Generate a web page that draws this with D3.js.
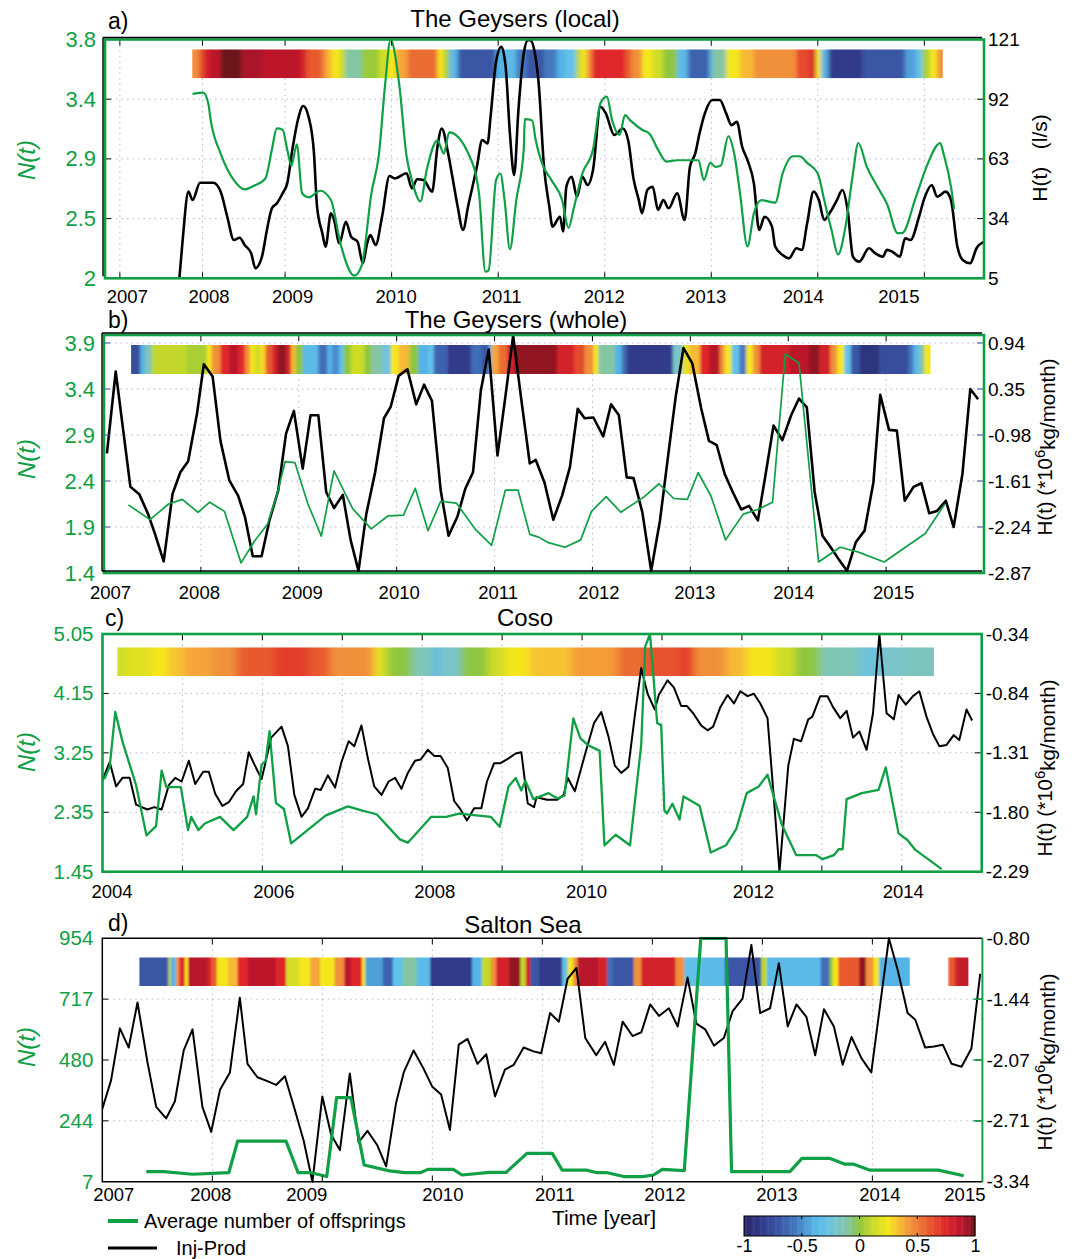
<!DOCTYPE html>
<html>
<head>
<meta charset="utf-8">
<script src="https://cdn.jsdelivr.net/npm/d3@7"></script>
<style>
  body { margin: 0; background: #fff; }
  text { font-family: "Liberation Sans", Arial, sans-serif; }
</style>
</head>
<body>
<svg id="chart" width="1079" height="1259"></svg>
<script>
// ---------- colours ----------
const green = "#0f9f45";
const gridColor = "#b3b8d6";

const cmapStops = [-1, -0.85, -0.7, -0.55, -0.4, -0.3, -0.2, -0.1, 0, 0.12, 0.25, 0.35, 0.45, 0.6, 0.75, 0.9, 1];
const cmapColors = ["#2b2868", "#303a8a", "#3a56a5", "#4479bf", "#55b3e6", "#62c1ea", "#79c5c9", "#84c6a4",
  "#8fc63f", "#cddc27", "#f5e61d", "#f6b935", "#f1903a", "#e85a2e", "#e0262b", "#b8152c", "#6c161b"];
const cmap = d3.scaleLinear().domain(cmapStops).range(cmapColors).clamp(true);

// ---------- a) The Geysers (local) ----------
const aOffspring = [[2007.88,3.39],[2008.01,3.40],[2008.07,3.32],[2008.10,3.19],[2008.22,2.94],[2008.38,2.74],[2008.51,2.67],[2008.63,2.70],[2008.76,2.75],[2008.84,2.97],[2008.90,3.13],[2008.97,3.12],[2009.02,2.97],[2009.06,2.85],[2009.11,3.01],[2009.16,2.64],[2009.22,2.61],[2009.33,2.66],[2009.43,2.59],[2009.52,2.26],[2009.65,2.02],[2009.72,2.10],[2009.81,2.64],[2009.88,2.93],[2009.94,3.47],[2009.99,3.80],[2010.07,3.47],[2010.14,2.92],[2010.19,2.74],[2010.27,2.58],[2010.33,2.82],[2010.43,3.04],[2010.49,2.94],[2010.54,3.10],[2010.72,2.94],[2010.82,2.64],[2010.88,2.05],[2010.91,2.06],[2010.98,2.74],[2011.02,2.79],[2011.06,2.59],[2011.11,2.22],[2011.17,2.59],[2011.24,2.97],[2011.25,3.20],[2011.32,3.19],[2011.35,3.05],[2011.41,2.87],[2011.50,2.74],[2011.60,2.59],[2011.66,2.38],[2011.71,2.53],[2011.79,2.79],[2011.89,2.97],[2011.96,3.32],[2012.02,3.37],[2012.07,3.19],[2012.14,3.08],[2012.19,3.23],[2012.24,3.19],[2012.35,3.12],[2012.42,3.09],[2012.50,2.97],[2012.58,2.88],[2012.68,2.89],[2012.88,2.89],[2012.93,2.74],[2012.99,2.87],[2013.04,2.84],[2013.09,2.85],[2013.16,3.07],[2013.22,2.92],[2013.27,2.64],[2013.34,2.24],[2013.40,2.49],[2013.47,2.59],[2013.60,2.57],[2013.67,2.79],[2013.77,2.92],[2013.83,2.92],[2013.90,2.87],[2014.00,2.79],[2014.06,2.59],[2014.13,2.36],[2014.19,2.18],[2014.26,2.39],[2014.33,2.79],[2014.38,3.02],[2014.46,2.84],[2014.56,2.69],[2014.65,2.56],[2014.75,2.34],[2014.79,2.34],[2014.92,2.61],[2015.02,2.84],[2015.15,3.02],[2015.18,2.94],[2015.25,2.69],[2015.28,2.52]];
const aInjProd = [[2007.72,5],[2007.76,23.6],[2007.83,47.1],[2007.88,43.0],[2007.97,51.4],[2008.13,51.4],[2008.22,47.1],[2008.30,34.9],[2008.38,23.6],[2008.45,24.7],[2008.51,21.2],[2008.59,17.1],[2008.64,9.9],[2008.72,15.5],[2008.78,28.5],[2008.84,39.0],[2008.90,41.4],[2008.97,46.3],[2009.02,51.1],[2009.07,68.1],[2009.12,81.9],[2009.17,88.7],[2009.22,83.5],[2009.27,66.5],[2009.30,39.8],[2009.35,26.8],[2009.38,20.4],[2009.43,36.6],[2009.46,33.3],[2009.51,22.0],[2009.57,32.5],[2009.62,25.2],[2009.68,22.8],[2009.73,12.3],[2009.77,22.0],[2009.80,26.0],[2009.85,21.2],[2009.91,34.9],[2009.98,54.7],[2010.03,53.5],[2010.14,56.0],[2010.19,48.7],[2010.24,53.1],[2010.30,52.7],[2010.38,47.1],[2010.43,68.9],[2010.47,77.8],[2010.53,65.7],[2010.57,54.3],[2010.62,39.8],[2010.67,28.5],[2010.72,40.6],[2010.80,59.2],[2010.85,72.1],[2010.90,70.5],[2010.93,84.3],[2010.98,110.2],[2011.03,117.5],[2011.07,107.7],[2011.11,75.4],[2011.15,55.2],[2011.19,86.7],[2011.24,114.2],[2011.28,120.7],[2011.30,120.7],[2011.35,112.6],[2011.38,99.7],[2011.43,59.2],[2011.48,39.8],[2011.51,30.1],[2011.58,34.9],[2011.61,27.7],[2011.64,49.5],[2011.69,54.3],[2011.74,44.6],[2011.79,54.3],[2011.84,50.3],[2011.89,57.6],[2011.96,88.3],[2012.01,85.1],[2012.09,74.6],[2012.17,77.8],[2012.22,72.1],[2012.27,53.5],[2012.32,43.0],[2012.35,36.6],[2012.40,47.9],[2012.45,49.5],[2012.50,38.2],[2012.55,43.0],[2012.60,39.0],[2012.68,46.3],[2012.75,33.3],[2012.80,59.2],[2012.85,65.7],[2012.89,75.4],[2012.94,85.1],[2013.01,91.6],[2013.08,91.6],[2013.14,85.1],[2013.19,79.4],[2013.24,81.0],[2013.29,68.9],[2013.34,62.4],[2013.40,51.1],[2013.45,28.5],[2013.50,34.9],[2013.57,30.1],[2013.60,20.4],[2013.67,16.3],[2013.73,14.7],[2013.80,19.6],[2013.85,18.8],[2013.90,31.7],[2013.96,47.1],[2014.01,43.0],[2014.06,33.3],[2014.11,36.6],[2014.18,43.0],[2014.23,47.9],[2014.28,38.2],[2014.33,15.5],[2014.39,13.1],[2014.48,19.6],[2014.54,17.1],[2014.61,15.5],[2014.65,18.8],[2014.70,17.9],[2014.77,15.5],[2014.82,24.4],[2014.87,23.6],[2014.95,34.9],[2015.00,43.8],[2015.07,50.3],[2015.12,44.6],[2015.20,47.1],[2015.25,43.0],[2015.31,20.4],[2015.36,13.9],[2015.43,12.3],[2015.49,19.6],[2015.56,22.8]];
const aCorr = [[2007.88,0.45],[2007.95,0.6],[2008.01,0.8],[2008.09,0.88],[2008.22,1.0],[2008.47,0.92],[2008.72,0.88],[2009.14,0.8],[2009.20,0.6],[2009.35,0.45],[2009.39,0.35],[2009.44,0.25],[2009.51,0.12],[2009.56,-0.1],[2009.72,0.02],[2009.88,0.12],[2009.96,0.25],[2010.04,0.4],[2010.15,0.55],[2010.43,0.25],[2010.49,0.05],[2010.54,-0.35],[2010.62,-0.7],[2010.98,-0.4],[2011.07,-0.35],[2011.17,-0.55],[2011.27,-0.7],[2011.43,-0.55],[2011.55,-0.4],[2011.63,-0.3],[2011.73,0.1],[2011.78,0.25],[2011.83,0.45],[2011.88,0.75],[2012.19,0.6],[2012.25,0.45],[2012.35,0.25],[2012.45,0.12],[2012.55,0.0],[2012.68,-0.35],[2012.78,-0.65],[2012.98,-0.4],[2013.01,-0.1],[2013.14,0.25],[2013.27,0.35],[2013.40,0.45],[2013.80,0.65],[2013.93,0.8],[2013.98,0.25],[2014.03,-0.4],[2014.10,-0.85],[2014.42,-0.7],[2014.82,-0.45],[2014.92,-0.3],[2014.98,0.05],[2015.05,0.25],[2015.12,0.45]];
const aCorrEnd = 2015.17;

// ---------- b) The Geysers (whole) ----------
const bOffspring = [[2007.26,2.14],[2007.48,1.98],[2007.67,2.15],[2007.81,2.20],[2007.97,2.06],[2008.09,2.17],[2008.24,2.07],[2008.41,1.51],[2008.55,1.75],[2008.68,1.93],[2008.78,2.26],[2008.86,2.61],[2008.96,2.60],[2009.09,2.16],[2009.23,1.80],[2009.36,2.51],[2009.55,2.10],[2009.74,1.88],[2009.91,2.02],[2010.07,2.03],[2010.19,2.32],[2010.32,1.86],[2010.45,2.18],[2010.61,2.16],[2010.80,1.88],[2010.97,1.70],[2011.11,2.30],[2011.24,2.30],[2011.36,1.82],[2011.45,1.79],[2011.55,1.73],[2011.72,1.68],[2011.88,1.76],[2011.99,2.07],[2012.14,2.23],[2012.29,2.06],[2012.53,2.23],[2012.68,2.37],[2012.83,2.21],[2012.97,2.20],[2013.08,2.49],[2013.21,2.24],[2013.36,1.76],[2013.54,2.04],[2013.69,2.09],[2013.84,2.17],[2013.97,3.78],[2014.11,3.68],[2014.31,1.52],[2014.53,1.68],[2014.71,1.63],[2014.98,1.52],[2015.40,1.83],[2015.60,2.15]];
const bInjProd = [[2007.04,-1.23],[2007.13,-0.11],[2007.28,-1.69],[2007.37,-1.79],[2007.46,-2.06],[2007.53,-2.33],[2007.62,-2.71],[2007.71,-1.79],[2007.79,-1.49],[2007.87,-1.34],[2007.96,-0.69],[2008.03,-0.01],[2008.12,-0.18],[2008.20,-1.06],[2008.29,-1.60],[2008.38,-1.81],[2008.45,-2.10],[2008.53,-2.64],[2008.62,-2.64],[2008.70,-2.15],[2008.79,-1.74],[2008.87,-0.96],[2008.95,-0.65],[2009.04,-1.44],[2009.12,-0.71],[2009.20,-0.71],[2009.28,-1.76],[2009.36,-1.98],[2009.45,-1.80],[2009.53,-2.42],[2009.61,-2.84],[2009.69,-2.06],[2009.78,-1.49],[2009.87,-0.75],[2009.94,-0.59],[2010.02,-0.17],[2010.11,-0.08],[2010.20,-0.56],[2010.28,-0.29],[2010.36,-0.51],[2010.45,-1.74],[2010.53,-2.36],[2010.62,-2.10],[2010.70,-1.72],[2010.78,-1.49],[2010.86,-0.37],[2010.94,0.19],[2011.03,-1.26],[2011.11,-0.46],[2011.19,0.38],[2011.27,-0.46],[2011.36,-1.37],[2011.42,-1.32],[2011.51,-1.63],[2011.60,-2.14],[2011.69,-1.81],[2011.77,-1.42],[2011.85,-0.62],[2011.92,-0.75],[2012.01,-0.74],[2012.11,-1.00],[2012.19,-0.56],[2012.27,-0.71],[2012.35,-1.56],[2012.42,-1.57],[2012.51,-2.04],[2012.60,-2.84],[2012.69,-2.15],[2012.78,-1.19],[2012.85,-0.46],[2012.93,0.21],[2013.02,0.00],[2013.11,-0.61],[2013.19,-1.06],[2013.27,-1.12],[2013.35,-1.51],[2013.44,-1.78],[2013.52,-2.00],[2013.60,-1.95],[2013.69,-2.15],[2013.77,-1.51],[2013.85,-0.85],[2013.94,-1.05],[2014.03,-0.71],[2014.11,-0.48],[2014.19,-0.60],[2014.27,-1.76],[2014.35,-2.36],[2014.43,-2.51],[2014.51,-2.67],[2014.60,-2.84],[2014.69,-2.45],[2014.78,-2.29],[2014.87,-1.63],[2014.94,-0.43],[2015.03,-0.91],[2015.11,-0.92],[2015.19,-1.88],[2015.28,-1.69],[2015.36,-1.64],[2015.44,-2.05],[2015.52,-2.02],[2015.61,-1.88],[2015.69,-2.24],[2015.78,-1.51],[2015.86,-0.35],[2015.94,-0.49]];
const bCorr = [[2007.29,-0.75],[2007.38,-0.4],[2007.43,-0.15],[2007.50,0.1],[2007.85,0.05],[2008.06,0.25],[2008.11,0.45],[2008.20,0.75],[2008.29,0.9],[2008.38,0.75],[2008.45,0.45],[2008.50,0.25],[2008.55,0.12],[2008.60,0.28],[2008.66,0.6],[2008.73,0.8],[2008.78,0.95],[2008.87,0.8],[2008.92,0.35],[2008.97,0.0],[2009.04,-0.35],[2009.20,-0.6],[2009.29,-0.4],[2009.34,-0.5],[2009.41,-0.3],[2009.46,0.0],[2009.53,0.12],[2009.67,0.0],[2009.74,-0.1],[2009.85,-0.25],[2009.94,0.25],[2010.02,0.35],[2010.13,0.0],[2010.22,-0.4],[2010.32,-0.3],[2010.38,-0.65],[2010.52,-0.85],[2010.76,-0.6],[2010.87,-0.7],[2010.94,-0.4],[2010.97,0.4],[2011.04,0.55],[2011.13,0.8],[2011.20,0.95],[2011.64,0.8],[2011.81,0.65],[2011.92,0.45],[2012.01,0.25],[2012.06,-0.1],[2012.23,-0.4],[2012.30,-0.6],[2012.35,-0.85],[2012.82,-0.2],[2012.92,0.2],[2012.99,0.35],[2013.10,0.75],[2013.19,0.9],[2013.30,0.45],[2013.35,0.25],[2013.42,-0.3],[2013.50,-0.55],[2013.57,0.25],[2013.64,0.45],[2013.71,0.8],[2014.01,0.88],[2014.21,0.95],[2014.32,0.8],[2014.43,0.45],[2014.50,0.25],[2014.57,-0.3],[2014.64,-0.7],[2014.73,-0.9],[2014.93,-0.75],[2015.23,-0.55],[2015.28,-0.35],[2015.34,-0.1],[2015.39,0.25]];
const bCorrEnd = 2015.45;

// ---------- c) Coso ----------
const cOffspring = [[2004.02,2.85],[2004.09,3.04],[2004.16,3.87],[2004.25,3.42],[2004.42,2.76],[2004.55,2.00],[2004.67,2.14],[2004.74,2.98],[2004.80,2.73],[2004.98,2.73],[2005.07,2.08],[2005.11,2.28],[2005.20,2.08],[2005.28,2.18],[2005.47,2.28],[2005.64,2.08],[2005.81,2.28],[2005.89,2.59],[2005.92,2.32],[2005.99,3.07],[2006.04,3.12],[2006.09,3.58],[2006.17,2.49],[2006.27,2.40],[2006.36,1.88],[2006.79,2.30],[2007.07,2.44],[2007.24,2.38],[2007.43,2.32],[2007.72,1.94],[2007.82,1.89],[2008.11,2.28],[2008.30,2.28],[2008.46,2.33],[2008.86,2.28],[2008.97,2.13],[2009.08,2.74],[2009.17,2.87],[2009.24,2.68],[2009.29,2.83],[2009.39,2.55],[2009.58,2.64],[2009.69,2.56],[2009.78,2.60],[2009.89,3.77],[2009.98,3.47],[2010.07,3.37],[2010.22,3.28],[2010.28,1.85],[2010.42,2.01],[2010.60,1.85],[2010.74,3.37],[2010.79,4.86],[2010.85,5.05],[2010.94,3.70],[2010.99,3.67],[2011.03,2.38],[2011.06,2.33],[2011.13,2.48],[2011.22,2.24],[2011.27,2.59],[2011.47,2.45],[2011.61,1.74],[2011.80,1.85],[2011.93,2.10],[2012.06,2.64],[2012.21,2.74],[2012.32,2.92],[2012.50,2.16],[2012.68,1.70],[2012.93,1.70],[2013.01,1.64],[2013.15,1.70],[2013.21,1.79],[2013.26,1.79],[2013.31,2.55],[2013.50,2.64],[2013.71,2.69],[2013.80,3.03],[2013.96,2.03],[2014.07,1.93],[2014.17,1.78],[2014.50,1.49]];
const cInjProd = [[2004.00,-1.54],[2004.09,-1.39],[2004.17,-1.59],[2004.25,-1.52],[2004.34,-1.52],[2004.42,-1.74],[2004.56,-1.78],[2004.65,-1.76],[2004.74,-1.78],[2004.83,-1.58],[2004.91,-1.52],[2004.99,-1.55],[2005.08,-1.38],[2005.16,-1.57],[2005.26,-1.47],[2005.33,-1.47],[2005.41,-1.65],[2005.50,-1.75],[2005.58,-1.72],[2005.67,-1.63],[2005.76,-1.57],[2005.83,-1.31],[2005.90,-1.41],[2005.99,-1.53],[2006.03,-1.42],[2006.11,-1.19],[2006.24,-1.10],[2006.32,-1.26],[2006.40,-1.66],[2006.49,-1.84],[2006.57,-1.77],[2006.66,-1.61],[2006.73,-1.62],[2006.82,-1.50],[2006.91,-1.60],[2006.99,-1.39],[2007.08,-1.22],[2007.15,-1.26],[2007.24,-1.09],[2007.32,-1.36],[2007.40,-1.59],[2007.49,-1.66],[2007.58,-1.55],[2007.66,-1.52],[2007.74,-1.61],[2007.82,-1.48],[2007.91,-1.38],[2007.98,-1.37],[2008.07,-1.29],[2008.15,-1.34],[2008.23,-1.34],[2008.32,-1.44],[2008.40,-1.71],[2008.47,-1.77],[2008.56,-1.87],[2008.65,-1.77],[2008.74,-1.77],[2008.81,-1.55],[2008.90,-1.40],[2008.98,-1.40],[2009.08,-1.36],[2009.17,-1.32],[2009.24,-1.31],[2009.32,-1.73],[2009.40,-1.76],[2009.43,-1.68],[2009.56,-1.70],[2009.69,-1.70],[2009.77,-1.66],[2009.82,-1.52],[2009.91,-1.63],[2010.04,-1.32],[2010.15,-1.07],[2010.24,-0.98],[2010.33,-1.18],[2010.41,-1.42],[2010.49,-1.48],[2010.58,-1.43],[2010.66,-1.01],[2010.74,-0.62],[2010.82,-0.83],[2010.91,-0.96],[2010.96,-0.84],[2011.07,-0.72],[2011.15,-0.78],[2011.24,-0.93],[2011.31,-0.93],[2011.39,-0.99],[2011.49,-1.09],[2011.57,-1.13],[2011.64,-1.10],[2011.73,-0.94],[2011.82,-0.84],[2011.90,-0.91],[2011.98,-0.81],[2012.07,-0.85],[2012.15,-0.83],[2012.23,-0.91],[2012.32,-1.03],[2012.40,-1.69],[2012.47,-2.29],[2012.58,-1.42],[2012.65,-1.20],[2012.74,-1.22],[2012.83,-1.04],[2012.88,-1.02],[2012.98,-0.85],[2013.07,-0.85],[2013.14,-0.94],[2013.23,-1.03],[2013.31,-0.97],[2013.39,-1.19],[2013.47,-1.14],[2013.56,-1.29],[2013.64,-0.99],[2013.72,-0.34],[2013.81,-0.99],[2013.90,-1.04],[2013.96,-0.84],[2014.05,-0.92],[2014.14,-0.85],[2014.22,-0.81],[2014.31,-1.02],[2014.39,-1.16],[2014.47,-1.26],[2014.56,-1.25],[2014.65,-1.17],[2014.72,-1.21],[2014.81,-0.96],[2014.88,-1.05]];
const cCorr = [[2004.19,0.12],[2004.28,0.18],[2004.60,0.25],[2004.82,0.33],[2005.03,0.4],[2005.38,0.45],[2005.68,0.6],[2006.15,0.68],[2006.58,0.6],[2006.84,0.45],[2007.40,0.25],[2007.47,0.12],[2007.57,0.0],[2007.87,-0.15],[2008.13,-0.35],[2008.22,-0.2],[2008.48,0.0],[2008.82,0.12],[2009.04,0.25],[2009.34,0.33],[2009.87,0.42],[2010.44,0.55],[2010.79,0.62],[2011.23,0.68],[2011.40,0.45],[2011.80,0.35],[2012.06,0.25],[2012.41,0.12],[2012.67,0.0],[2012.98,-0.15],[2013.46,-0.25],[2013.77,-0.2],[2014.07,-0.17]];
const cCorrEnd = 2014.40;

// ---------- d) Salton Sea ----------
const dOffspring = [[2007.40,46],[2007.56,46],[2007.82,36],[2008.15,42],[2008.23,165],[2008.67,165],[2008.78,42],[2008.90,42],[2009.04,27],[2009.13,334],[2009.26,334],[2009.38,72],[2009.61,49],[2009.75,42],[2009.89,42],[2009.96,55],[2010.19,55],[2010.27,33],[2010.52,43],[2010.67,43],[2010.86,117],[2011.09,117],[2011.18,52],[2011.40,52],[2011.50,42],[2011.59,42],[2011.74,27],[2011.91,27],[2012.01,33],[2012.09,55],[2012.29,50],[2012.44,954],[2012.67,954],[2012.72,46],[2013.25,46],[2013.36,98],[2013.61,98],[2013.75,75],[2013.83,75],[2013.98,52],[2014.60,52],[2014.83,30]];
const dInjProd = [[2007.00,-2.58],[2007.08,-2.28],[2007.16,-1.74],[2007.24,-1.94],[2007.32,-1.47],[2007.41,-2.09],[2007.49,-2.56],[2007.58,-2.68],[2007.66,-2.50],[2007.74,-1.97],[2007.82,-1.75],[2007.91,-2.56],[2007.99,-2.82],[2008.07,-2.38],[2008.16,-2.20],[2008.25,-1.42],[2008.32,-2.11],[2008.41,-2.25],[2008.50,-2.29],[2008.58,-2.33],[2008.66,-2.24],[2008.75,-2.59],[2008.83,-2.91],[2008.91,-3.34],[2009.00,-2.45],[2009.08,-2.85],[2009.16,-3.01],[2009.25,-2.21],[2009.33,-2.93],[2009.41,-2.81],[2009.50,-2.96],[2009.58,-3.18],[2009.67,-2.52],[2009.74,-2.20],[2009.83,-1.97],[2009.92,-2.16],[2010.00,-2.35],[2010.08,-2.43],[2010.16,-2.80],[2010.24,-1.91],[2010.32,-1.85],[2010.41,-2.11],[2010.49,-2.01],[2010.57,-2.45],[2010.66,-2.17],[2010.74,-2.12],[2010.83,-1.94],[2010.92,-1.98],[2010.99,-2.00],[2011.07,-1.58],[2011.15,-1.67],[2011.23,-1.22],[2011.31,-1.11],[2011.39,-1.84],[2011.49,-2.02],[2011.57,-1.88],[2011.65,-2.12],[2011.73,-1.67],[2011.82,-1.82],[2011.90,-1.78],[2011.98,-1.49],[2012.06,-1.61],[2012.15,-1.53],[2012.23,-1.72],[2012.32,-1.21],[2012.40,-1.69],[2012.48,-1.75],[2012.56,-1.92],[2012.65,-1.84],[2012.73,-1.56],[2012.82,-1.43],[2012.90,-0.87],[2012.98,-1.58],[2013.07,-1.53],[2013.15,-1.06],[2013.23,-1.72],[2013.31,-1.49],[2013.40,-1.62],[2013.48,-2.02],[2013.56,-1.54],[2013.65,-1.72],[2013.73,-2.12],[2013.81,-1.83],[2013.90,-2.05],[2013.99,-2.20],[2014.07,-1.50],[2014.15,-0.80],[2014.23,-1.13],[2014.32,-1.58],[2014.39,-1.65],[2014.48,-1.94],[2014.56,-1.93],[2014.64,-1.91],[2014.72,-2.11],[2014.81,-2.14],[2014.90,-1.95],[2014.98,-1.17]];
const dCorr = [[2007.34,-0.7],[2007.60,0.1],[2007.62,-0.4],[2007.67,0.45],[2007.70,0.75],[2007.75,0.25],[2007.78,0.9],[2007.95,0.8],[2007.99,0.6],[2008.04,0.25],[2008.14,0.35],[2008.23,0.75],[2008.32,0.88],[2008.58,0.75],[2008.67,0.15],[2008.79,0.25],[2008.89,0.4],[2008.98,0.25],[2009.11,0.45],[2009.20,0.9],[2009.26,0.75],[2009.36,0.25],[2009.39,-0.45],[2009.55,-0.65],[2009.64,-0.3],[2009.73,-0.1],[2009.86,-0.35],[2009.98,-0.85],[2010.36,-0.4],[2010.45,0.1],[2010.53,0.45],[2010.58,0.8],[2010.70,0.95],[2010.80,0.1],[2010.85,0.8],[2010.89,-0.7],[2010.97,-0.85],[2011.18,-0.3],[2011.23,0.25],[2011.28,0.45],[2011.32,0.9],[2011.51,0.8],[2011.59,-0.6],[2011.64,-0.7],[2011.83,0.45],[2011.90,0.8],[2012.21,0.45],[2012.29,-0.3],[2012.44,-0.35],[2012.66,-0.7],[2012.99,0.1],[2013.04,-0.35],[2013.53,-0.6],[2013.61,0.0],[2013.64,0.25],[2013.69,0.6],[2013.88,0.95],[2013.94,0.45],[2014.01,0.25],[2014.06,-0.4],[2014.34,null],[2014.69,0.6],[2014.75,0.8],[2014.78,0.85]];
const dCorrEnd = 2014.87;

// ---------- tick labels ----------
const aNTicks = [2, 2.45, 2.9, 3.35, 3.8], aNLabels = ["2", "2.5", "2.9", "3.4", "3.8"];
const aHTicks = [5, 34, 63, 92, 121], aHLabels = ["5", "34", "63", "92", "121"];
const bNTicks = [1.4, 1.9, 2.4, 2.9, 3.4, 3.9], bNLabels = ["1.4", "1.9", "2.4", "2.9", "3.4", "3.9"];
const bHTicks = [-2.87, -2.24, -1.61, -0.98, -0.35, 0.28], bHLabels = ["-2.87", "-2.24", "-1.61", "-0.98", "0.35", "0.94"];
const cNTicks = [1.45, 2.35, 3.25, 4.15, 5.05], cNLabels = ["1.45", "2.35", "3.25", "4.15", "5.05"];
const cHTicks = [-2.29, -1.8025, -1.315, -0.8275, -0.34], cHLabels = ["-2.29", "-1.80", "-1.31", "-0.84", "-0.34"];
const dNTicks = [7, 243.75, 480.5, 717.25, 954], dNLabels = ["7", "244", "480", "717", "954"];
const dHTicks = [-3.34, -2.705, -2.07, -1.435, -0.80], dHLabels = ["-3.34", "-2.71", "-2.07", "-1.44", "-0.80"];
const years0715 = [2007, 2008, 2009, 2010, 2011, 2012, 2013, 2014, 2015];
const years0414 = [2004, 2005, 2006, 2007, 2008, 2009, 2010, 2011, 2012, 2013, 2014];

const svg = d3.select("#chart");
svg.append("rect").attr("width", 1079).attr("height", 1259).attr("fill", "#fff");
const defs = svg.append("defs");

const panels = [
  { id: "a", letter: "a)", title: "The Geysers (local)", titleX: 515, titleY: 19, letterX: 108, letterY: 21,
    left: 105, right: 984, top: 39.5, bottom: 278.3,
    xDomain: [2006.82, 2009, 2015.56], xRange: [105, 285.1, 984],
    xTicks: years0715, xLabelDx: [7, 6, 7, 4, 3, -1, -6, -15, -26], xLabelPad: 11.5, labelAll: true,
    nDomain: [2, 3.8], nTicks: aNTicks, nLabels: aNLabels, nFont: 22,
    hDomain: [5, 121], hTicks: aHTicks, hLabels: aHLabels,
    offspring: aOffspring, injProd: aInjProd, corr: aCorr, corrEnd: aCorrEnd,
    band: [49.3, 78.3], blur: 2, smooth: true, gW: 2.2, kW: 2.6,
    frame: "green", blackEdges: ["top", "left"], yTickColor: "#000",
    nLabelY: 160, hLabelY: 158, hTitle: "H(t)   (l/s)", hTitleX: 1040 },
  { id: "b", letter: "b)", title: "The Geysers (whole)", titleX: 516, titleY: 320, letterX: 108, letterY: 320,
    left: 104, right: 984, top: 335, bottom: 573,
    xDomain: [2007, 2016], xRange: [103, 984],
    xTicks: years0715, xLabelDx: [7, -2, 3, 2, 3, 6, 4, 5, 7], xLabelPad: 12.5, labelAll: true,
    nDomain: [1.4, 3.987], nTicks: bNTicks, nLabels: bNLabels, nFont: 22,
    hDomain: [-2.87, 0.39], hTicks: bHTicks, hLabels: bHLabels,
    offspring: bOffspring, injProd: bInjProd, corr: bCorr, corrEnd: bCorrEnd,
    band: [345, 374], blur: 1.6, smooth: false, gW: 1.7, kW: 2.6,
    frame: "green", blackEdges: ["top", "left", "bottom"], yTickColor: "#3347a8",
    nLabelY: 459, hLabelY: 447, hTitle: "sup", hTitleX: 1045 },
  { id: "c", letter: "c)", title: "Coso", titleX: 525, titleY: 618, letterX: 105, letterY: 618,
    left: 102.5, right: 981.7, top: 634, bottom: 871.7,
    xDomain: [2004, 2015], xRange: [102.5, 981.7],
    xTicks: years0414, xLabelDx: [9, 0, 11, 0, 12, 0, 4, 0, 11, 0, 1], xLabelPad: 13.5, labelAll: false,
    nDomain: [1.45, 5.05], nTicks: cNTicks, nLabels: cNLabels, nFont: 20.5,
    hDomain: [-2.29, -0.34], hTicks: cHTicks, hLabels: cHLabels,
    offspring: cOffspring, injProd: cInjProd, corr: cCorr, corrEnd: cCorrEnd,
    band: [647.3, 676], blur: 4, smooth: false, gW: 2.3, kW: 2.0,
    frame: "green", blackEdges: [], yTickColor: "#000",
    nLabelY: 752, hLabelY: 768, hTitle: "sup", hTitleX: 1045 },
  { id: "d", letter: "d)", title: "Salton Sea", titleX: 523, titleY: 925, letterX: 108, letterY: 923,
    left: 102.3, right: 982.4, top: 938.3, bottom: 1181.7,
    xDomain: [2007, 2015], xRange: [102.3, 982.4],
    xTicks: years0715, xLabelDx: [11, -2, -16, 10, 12, 12, 14, 7, -18], xLabelPad: 6.5, labelAll: true,
    nDomain: [7, 954], nTicks: dNTicks, nLabels: dNLabels, nFont: 20.5,
    hDomain: [-3.34, -0.80], hTicks: dHTicks, hLabels: dHLabels,
    offspring: dOffspring, injProd: dInjProd, corr: dCorr, corrEnd: dCorrEnd,
    band: [957.3, 986], blur: 1.3, smooth: false, gW: 3.2, kW: 2.0,
    frame: "black", blackEdges: [], yTickColor: "#000",
    nLabelY: 1047, hLabelY: 1062, hTitle: "sup", hTitleX: 1045 }
];

function drawPanel(p) {
  const x = d3.scaleLinear().domain(p.xDomain).range(p.xRange);
  const yN = d3.scaleLinear().domain(p.nDomain).range([p.bottom, p.top]);
  const yH = d3.scaleLinear().domain(p.hDomain).range([p.bottom, p.top]);
  const g = svg.append("g");

  defs.append("clipPath").attr("id", "clip-" + p.id).append("rect")
    .attr("x", p.left).attr("y", p.top - 1.5)
    .attr("width", p.right - p.left).attr("height", p.bottom - p.top + 3);

  // dotted grid
  const grid = g.append("g").attr("stroke", gridColor).attr("stroke-width", 1).attr("stroke-dasharray", "1.5,4");
  grid.selectAll(".gx").data(p.xTicks.filter(t => x(t) > p.left + 3 && x(t) < p.right - 3)).join("line")
    .attr("x1", d => x(d)).attr("x2", d => x(d)).attr("y1", p.top).attr("y2", p.bottom);
  grid.selectAll(".gy").data(p.nTicks.filter(t => yN(t) > p.top + 3 && yN(t) < p.bottom - 3)).join("line")
    .attr("x1", p.left).attr("x2", p.right).attr("y1", d => yN(d)).attr("y2", d => yN(d));

  // correlation band: stripes, softened horizontally, clipped to the band extent
  const stripes = p.corr.map((d, i) => ({
    x0: d[0], x1: i < p.corr.length - 1 ? p.corr[i + 1][0] : p.corrEnd, v: d[1]
  })).filter(s => s.v !== null);
  defs.append("filter").attr("id", "blur-" + p.id).attr("x", "-2%").attr("width", "104%")
    .append("feGaussianBlur").attr("stdDeviation", p.blur + " 0");
  const bandClip = defs.append("clipPath").attr("id", "bclip-" + p.id);
  bandClip.selectAll("rect").data(stripes).join("rect")
    .attr("x", s => x(s.x0) - 0.3).attr("width", s => x(s.x1) - x(s.x0) + 0.6)
    .attr("y", p.band[0]).attr("height", p.band[1] - p.band[0]);
  g.append("g").attr("clip-path", "url(#bclip-" + p.id + ")")
    .append("g").attr("filter", "url(#blur-" + p.id + ")")
    .selectAll("rect").data(stripes).join("rect")
    .attr("x", (s, i) => x(s.x0) - (i === 0 ? 6 : 0))
    .attr("width", (s, i) => x(s.x1) - x(s.x0) + 0.6 + (i === 0 ? 6 : 0) + (i === stripes.length - 1 ? 6 : 0))
    .attr("y", p.band[0]).attr("height", p.band[1] - p.band[0])
    .attr("fill", s => cmap(s.v));

  // lines
  const lines = g.append("g").attr("clip-path", "url(#clip-" + p.id + ")");
  const lineH = d3.line().x(d => x(d[0])).y(d => yH(d[1]));
  const lineN = d3.line().x(d => x(d[0])).y(d => yN(d[1]));
  if (p.smooth) { lineH.curve(d3.curveMonotoneX); lineN.curve(d3.curveMonotoneX); }
  lines.append("path").attr("d", lineH(p.injProd)).attr("fill", "none")
    .attr("stroke", "#000").attr("stroke-width", p.kW).attr("stroke-linejoin", "round");
  lines.append("path").attr("d", lineN(p.offspring)).attr("fill", "none")
    .attr("stroke", green).attr("stroke-width", p.gW).attr("stroke-linejoin", "round");

  // tick marks (inward)
  const tk = g.append("g");
  tk.selectAll(".tx").data(p.xTicks.filter(t => x(t) > p.left + 3 && x(t) < p.right - 3)).join("path")
    .attr("d", d => `M${x(d)},${p.top}v6M${x(d)},${p.bottom}v-6`)
    .attr("stroke", "#000").attr("stroke-width", 1);
  tk.selectAll(".ty").data(p.nTicks.filter(t => yN(t) > p.top + 3 && yN(t) < p.bottom - 3)).join("path")
    .attr("d", d => `M${p.left},${yN(d)}h6M${p.right},${yN(d)}h-7`)
    .attr("stroke", p.yTickColor).attr("stroke-width", 1);
  if (p.frame === "black") {
    tk.selectAll(".tr").data(p.hTicks.filter(t => yH(t) > p.top + 3 && yH(t) < p.bottom - 3)).join("path")
      .attr("d", d => `M${p.right},${yH(d)}h-9`).attr("stroke", green).attr("stroke-width", 1.5);
  }

  // frame
  if (p.frame === "green") {
    g.append("rect").attr("x", p.left).attr("y", p.top)
      .attr("width", p.right - p.left).attr("height", p.bottom - p.top)
      .attr("fill", "none").attr("stroke", green).attr("stroke-width", 2.6);
    const e = { top: [p.left - 2, p.top - 2, p.right - 2, p.top - 2],
                left: [p.left - 2, p.top - 2, p.left - 2, p.bottom - 2],
                bottom: [p.left - 2, p.bottom - 2, p.right - 2, p.bottom - 2] };
    p.blackEdges.forEach(k => g.append("line")
      .attr("x1", e[k][0]).attr("y1", e[k][1]).attr("x2", e[k][2]).attr("y2", e[k][3])
      .attr("stroke", "#000").attr("stroke-width", 1.4));
  } else {
    g.append("path").attr("d", `M${p.right},${p.top}H${p.left}V${p.bottom}H${p.right}`)
      .attr("fill", "none").attr("stroke", "#000").attr("stroke-width", 1.5);
    g.append("line").attr("x1", p.right).attr("x2", p.right).attr("y1", p.top).attr("y2", p.bottom)
      .attr("stroke", green).attr("stroke-width", 2);
  }

  // axes (labels only)
  const axL = g.append("g").attr("transform", `translate(${p.left},0)`)
    .call(d3.axisLeft(yN).tickValues(p.nTicks).tickFormat((d, i) => p.nLabels[i]).tickSize(0).tickPadding(9));
  axL.select(".domain").remove();
  axL.selectAll("text").attr("fill", green).style("font-size", p.nFont + "px")
    .style("font-family", "Liberation Sans, Arial, sans-serif");

  const axR = g.append("g").attr("transform", `translate(${p.right},0)`)
    .call(d3.axisRight(yH).tickValues(p.hTicks).tickFormat((d, i) => p.hLabels[i]).tickSize(0).tickPadding(4));
  axR.select(".domain").remove();
  axR.selectAll("text").attr("fill", "#000").style("font-size", "19px")
    .style("font-family", "Liberation Sans, Arial, sans-serif");

  const axB = g.append("g").attr("transform", `translate(0,${p.bottom})`)
    .call(d3.axisBottom(x).tickValues(p.xTicks)
      .tickFormat(d => (p.labelAll || d % 2 === 0) ? String(d) : "").tickSize(0).tickPadding(p.xLabelPad));
  axB.select(".domain").remove();
  axB.selectAll("text").attr("fill", "#000").style("font-size", "18.5px")
    .style("font-family", "Liberation Sans, Arial, sans-serif")
    .attr("dx", (d, i) => p.xLabelDx[i]);

  // titles
  g.append("text").attr("x", p.titleX).attr("y", p.titleY).attr("dy", "0.35em")
    .attr("text-anchor", "middle").style("font-size", "24px").text(p.title);
  g.append("text").attr("x", p.letterX).attr("y", p.letterY).attr("dy", "0.35em")
    .style("font-size", "23px").text(p.letter);

  g.append("text").attr("transform", `translate(27,${p.nLabelY}) rotate(-90)`).attr("dy", "0.35em")
    .attr("text-anchor", "middle").attr("fill", green).style("font-size", "24px")
    .style("font-style", "italic").text("N(t)");

  const ht = g.append("text").attr("transform", `translate(${p.hTitleX},${p.hLabelY}) rotate(-90)`)
    .attr("dy", "0.35em").attr("text-anchor", "middle").style("font-size", "20.5px");
  if (p.hTitle === "sup") {
    ht.append("tspan").text("H(t) (*10");
    ht.append("tspan").attr("dy", "-0.5em").style("font-size", "15px").text("6");
    ht.append("tspan").attr("dy", "0.5em").text("kg/month)");
  } else {
    ht.attr("xml:space", "preserve").style("font-size", "21px").text(p.hTitle);
  }
}

panels.forEach(drawPanel);

// legend
const leg = svg.append("g");
leg.append("line").attr("x1", 108).attr("x2", 138).attr("y1", 1221).attr("y2", 1221)
  .attr("stroke", green).attr("stroke-width", 4);
leg.append("text").attr("x", 144).attr("y", 1221).attr("dy", "0.35em").style("font-size", "20px")
  .text("Average number of offsprings");
leg.append("line").attr("x1", 108).attr("x2", 157).attr("y1", 1248).attr("y2", 1248)
  .attr("stroke", "#000").attr("stroke-width", 3);
leg.append("text").attr("x", 176).attr("y", 1248).attr("dy", "0.35em").style("font-size", "20px")
  .text("Inj-Prod");

svg.append("text").attr("x", 604).attr("y", 1218).attr("dy", "0.35em").attr("text-anchor", "middle")
  .style("font-size", "21px").text("Time [year]");

// colour bar
const cbX = d3.scaleLinear().domain([-1, 1]).range([744, 975]);
const cbSteps = d3.range(-1, 1, 0.01);
const cb = svg.append("g");
cb.selectAll("rect").data(cbSteps).join("rect")
  .attr("x", d => cbX(d)).attr("width", cbX(-0.99) - cbX(-1) + 0.5)
  .attr("y", 1216).attr("height", 20).attr("fill", d => cmap(d + 0.005));
cb.append("rect").attr("x", 744).attr("y", 1216).attr("width", 231).attr("height", 20)
  .attr("fill", "none").attr("stroke", "#000").attr("stroke-width", 1);
const cbAxis = cb.append("g").attr("transform", "translate(0,1236)")
  .call(d3.axisBottom(cbX).tickValues([-1, -0.5, 0, 0.5, 1]).tickSize(0).tickPadding(3)
    .tickFormat(d => String(d)));
cbAxis.select(".domain").remove();
cbAxis.selectAll("text").attr("fill", "#000").style("font-size", "18px")
  .style("font-family", "Liberation Sans, Arial, sans-serif");
cb.selectAll(".cbt").data([-0.5, 0, 0.5]).join("path")
  .attr("d", d => `M${cbX(d)},1216v3M${cbX(d)},1236v-3`).attr("stroke", "#000");
</script>
</body>
</html>
